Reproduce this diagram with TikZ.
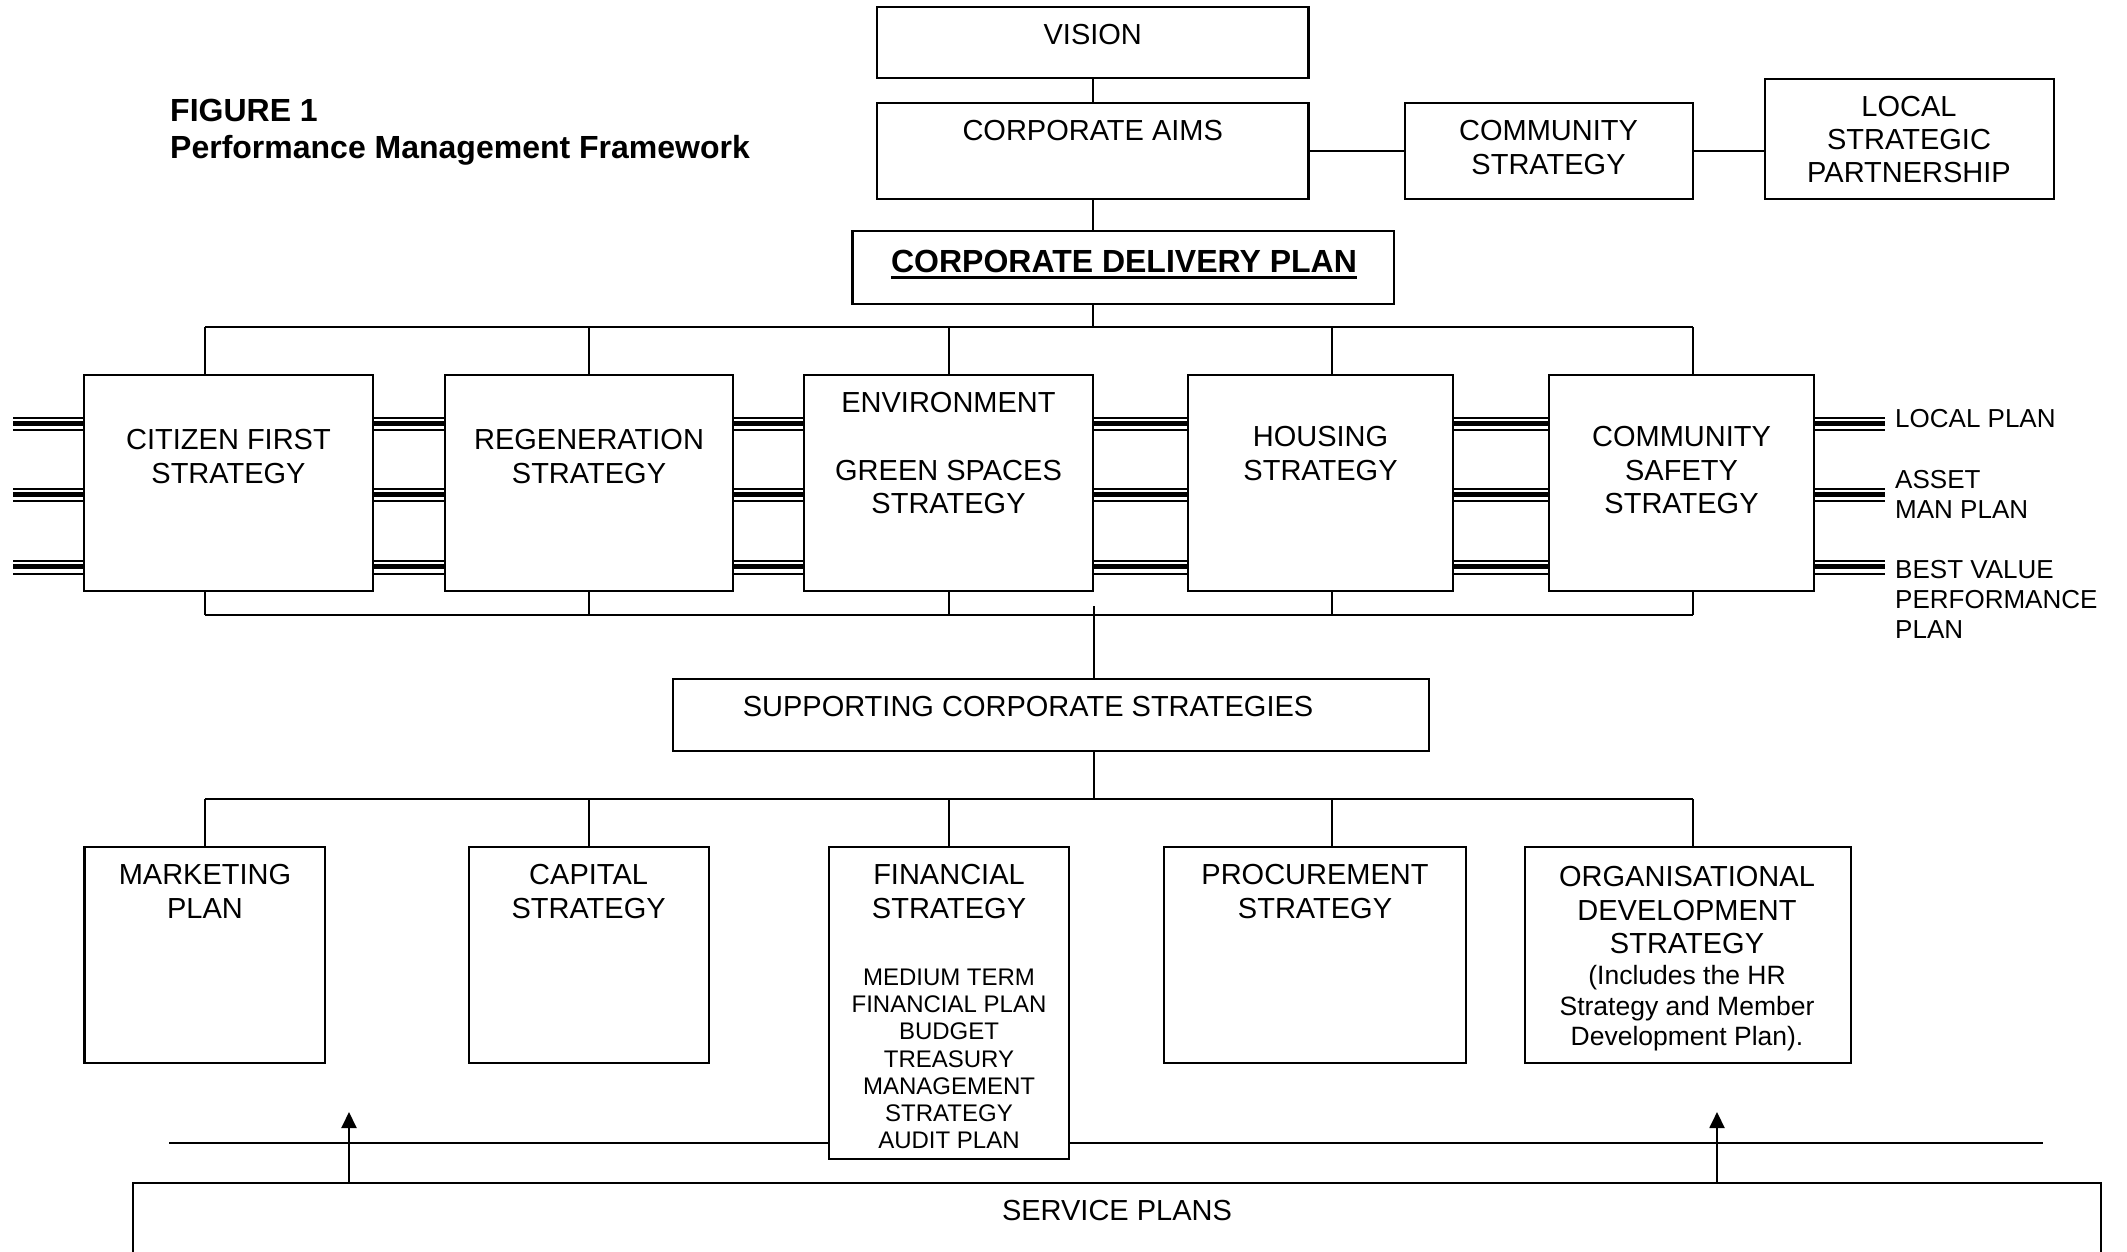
\documentclass[tikz,border=0pt]{standalone}
\usepackage{fontspec}
\setmainfont{Liberation Sans}
\usetikzlibrary{arrows.meta}
\begin{document}
\begin{tikzpicture}[x=1pt,y=-1pt,
  ln/.style={line width=2pt},
  box/.style={draw, line width=2.2pt, fill=white, inner sep=0pt, outer sep=0pt},
  txt/.style={inner sep=0pt, align=center, anchor=north, font=\fontsize{29}{33.5}\selectfont},
  smalltxt/.style={txt, font=\fontsize{24}{27.3}\selectfont},
  notetxt/.style={txt, font=\fontsize{26.5}{30.5}\selectfont},
  sidetxt/.style={inner sep=0pt, align=left, anchor=north west, font=\fontsize{26}{30}\selectfont},
  boldtxt/.style={inner sep=0pt, font=\fontsize{32}{37}\selectfont\bfseries},
  arr/.style={line width=2pt, -{Triangle[width=15pt,length=16pt]}}
]
\fill[white] (0,0) rectangle (2127,1252);
\useasboundingbox (0,0) rectangle (2127,1252);
\clip (0,0) rectangle (2127,1252);

% ---------- title
\node[boldtxt, align=left, anchor=north west] (title) at (170,98.5) {FIGURE 1\\Performance Management Framework};

% ---------- top boxes
\node[box, minimum width=431.5pt, minimum height=71pt] (vision) at (1092.75,42.5) {};
\node[box, minimum width=431.5pt, minimum height=96pt] (aims) at (1092.75,151) {};
\node[box, minimum width=288.4pt, minimum height=96pt] (comm) at (1548.8,151) {};
\node[box, minimum width=289pt, minimum height=120pt] (lsp) at (1909.2,139) {};
\node[box, minimum width=541.6pt, minimum height=73pt] (cdp) at (1123.2,267.5) {};

\node[txt] (tvision) at (1092.75,24.5) {VISION};
\node[txt] (taims) at (1092.75,120.5) {CORPORATE AIMS};
\node[txt] (tcomm) at (1548.5,120.5) {COMMUNITY\\STRATEGY};
\node[txt, font=\fontsize{29}{33}\selectfont] (tlsp) at (1909,96.5) {LOCAL\\STRATEGIC\\PARTNERSHIP};
\node[boldtxt, anchor=north] (tcdp) at (1124,250.3) {CORPORATE DELIVERY PLAN};
\draw[line width=3.3pt] ([yshift=-4.5pt]tcdp.base west) -- ([yshift=-4.5pt]tcdp.base east);

\draw[ln] (vision.south) -- (aims.north);
\draw[ln] (aims.east) -- (comm.west);
\draw[ln] (comm.east) -- (comm.east -| lsp.west);
\draw[ln] (aims.south) -- (aims.south |- cdp.north);

% ---------- strategy boxes
\node[box, minimum width=289pt, minimum height=216pt] (cf) at (228.5,483) {};
\node[box, minimum width=288pt, minimum height=216pt] (reg) at (589,483) {};
\node[box, minimum width=289pt, minimum height=216pt] (env) at (948.5,483) {};
\node[box, minimum width=265pt, minimum height=216pt] (hou) at (1320.5,483) {};
\node[box, minimum width=265pt, minimum height=216pt] (cs) at (1681.5,483) {};

\node[txt] (tcf) at (228.5,429.5) {CITIZEN FIRST\\STRATEGY};
\node[txt] (treg) at (589,429.5) {REGENERATION\\STRATEGY};
\node[txt] (tenv) at (948.5,392.5) {ENVIRONMENT\\[34pt]GREEN SPACES\\STRATEGY};
\node[txt] (thou) at (1320.5,426.5) {HOUSING\\STRATEGY};
\node[txt] (tcs) at (1681.5,426.5) {COMMUNITY\\SAFETY\\STRATEGY};

% top bus
\coordinate (tb1) at (205,327);
\coordinate (tb2) at (589,327);
\coordinate (tb3) at (948.5,327);
\coordinate (tb4) at (1332,327);
\coordinate (tb5) at (1693,327);
\draw[ln] (aims.south |- cdp.south) -- (aims.south |- tb1);
\draw[ln] (tb1) -- (tb5);
\draw[ln] (tb1) -- (tb1 |- cf.north);
\draw[ln] (tb2) -- (tb2 |- reg.north);
\draw[ln] (tb3) -- (tb3 |- env.north);
\draw[ln] (tb4) -- (tb4 |- hou.north);
\draw[ln] (tb5) -- (tb5 |- cs.north);

% bottom bus
\coordinate (bb1) at (205,615);
\coordinate (bb2) at (589,615);
\coordinate (bb3) at (948.5,615);
\coordinate (bb4) at (1332,615);
\coordinate (bb5) at (1693,615);
\draw[ln] (bb1) -- (bb5);
\draw[ln] (bb1 |- cf.south) -- (bb1);
\draw[ln] (bb2 |- reg.south) -- (bb2);
\draw[ln] (bb3 |- env.south) -- (bb3);
\draw[ln] (bb4 |- hou.south) -- (bb4);
\draw[ln] (bb5 |- cs.south) -- (bb5);

% triple bars
\coordinate (lend) at (13,0);
\coordinate (rend) at (1885,0);
\coordinate (r1a) at (0,417.6); \coordinate (r1) at (0,423.3); \coordinate (r1b) at (0,430.2);
\coordinate (r2a) at (0,488.8); \coordinate (r2) at (0,494.5); \coordinate (r2b) at (0,501.4);
\coordinate (r3a) at (0,561.0); \coordinate (r3) at (0,566.7); \coordinate (r3b) at (0,573.6);
\foreach \r/\w in {r1a/2,r1/5.3,r1b/2,r2a/2,r2/5.3,r2b/2,r3a/2,r3/5.3,r3b/2}{
  \foreach \a/\b in {lend/cf.west,cf.east/reg.west,reg.east/env.west,env.east/hou.west,hou.east/cs.west,cs.east/rend}{
    \draw[line width=\w pt] (\a |- \r) -- (\b |- \r);
  }
}
\node[sidetxt] (tlp) at (1895,409) {LOCAL PLAN};
\node[sidetxt] (tamp) at (1895,470.6) {ASSET\\MAN PLAN};
\node[sidetxt] (tbv) at (1895,560.6) {BEST VALUE\\PERFORMANCE\\PLAN};

% ---------- supporting strategies
\node[box, minimum width=756pt, minimum height=72pt] (sup) at (1051,715) {};
\node[txt] (tsup) at (1028,696.5) {SUPPORTING CORPORATE STRATEGIES};
\coordinate (cc) at (1093.5,606);
\draw[ln] (cc) -- (cc |- sup.north);

\node[box, minimum width=240.5pt, minimum height=216pt] (mkt) at (204.75,955) {};
\node[box, minimum width=240pt, minimum height=216pt] (cap) at (588.6,955) {};
\node[box, minimum width=240pt, minimum height=312pt] (fin) at (949,1003) {};
\node[box, minimum width=302pt, minimum height=216pt] (pro) at (1315,955) {};
\node[box, minimum width=326pt, minimum height=216pt] (org) at (1688,955) {};

\coordinate (sb1) at (205,799);
\coordinate (sb2) at (589,799);
\coordinate (sb3) at (949,799);
\coordinate (sb4) at (1332,799);
\coordinate (sb5) at (1693,799);
\draw[ln] (cc |- sup.south) -- (cc |- sb1);
\draw[ln] (sb1) -- (sb5);
\draw[ln] (sb1) -- (sb1 |- mkt.north);
\draw[ln] (sb2) -- (sb2 |- cap.north);
\draw[ln] (sb3) -- (sb3 |- fin.north);
\draw[ln] (sb4) -- (sb4 |- pro.north);
\draw[ln] (sb5) -- (sb5 |- org.north);

\node[txt] (tmkt) at (205,864.5) {MARKETING\\PLAN};
\node[txt] (tcap) at (588.6,864.5) {CAPITAL\\STRATEGY};
\node[txt] (tfin) at (949,864.5) {FINANCIAL\\STRATEGY};
\begin{scope}
  \clip (829,848) rectangle (1069,1148.3);
  \node[smalltxt] (tfins) at (949,968.4) {MEDIUM TERM\\FINANCIAL PLAN\\BUDGET\\TREASURY\\MANAGEMENT\\STRATEGY\\AUDIT PLAN};
\end{scope}
\node[txt] (tpro) at (1315,864.5) {PROCUREMENT\\STRATEGY};
\node[txt] (torg) at (1687,866.5) {ORGANISATIONAL\\DEVELOPMENT\\STRATEGY};
\node[notetxt] (torgs) at (1687,965.5) {(Includes the HR\\Strategy and Member\\Development Plan).};

% ---------- horizontal line and service plans
\coordinate (hl) at (169,1143);
\coordinate (hr) at (2043,1143);
\draw[ln] (hl) -- (hl -| fin.west);
\draw[ln] (hl -| fin.east) -- (hr);

\coordinate (svcbl) at (133,1260);
\coordinate (svctl) at (133,1183);
\coordinate (svctr) at (2101,1183);
\coordinate (svcbr) at (2101,1260);
\draw[line width=2.2pt] (svcbl) -- (svctl) -- (svctr) -- (svcbr);
\node[txt] (tsvc) at (1117,1200.5) {SERVICE PLANS};

\coordinate (a1s) at (349,1183);
\coordinate (a1e) at (349,1112);
\coordinate (a2s) at (1717,1183);
\coordinate (a2e) at (1717,1112);
\draw[arr] (a1s) -- (a1e);
\draw[arr] (a2s) -- (a2e);
\end{tikzpicture}
\end{document}
